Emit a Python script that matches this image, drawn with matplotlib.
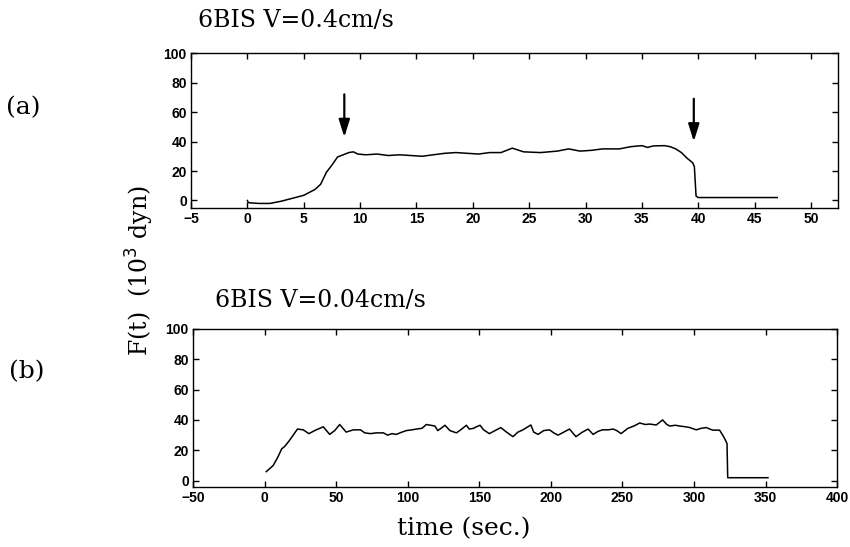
import matplotlib
matplotlib.use("Agg")
import matplotlib.pyplot as plt

# ---- data (a): V = 0.4 cm/s ----
time_a = [0, 0.1, 1, 2, 3, 4, 5, 6, 6.5, 7, 7.5, 8, 8.5, 9, 9.4, 9.8, 10.5, 11.5,
          12.5, 13.5, 14.5, 15.5, 16.5, 17.5, 18.5, 19.5, 20.5, 21.5, 22.5, 23.5,
          24.5, 26, 27.5, 28.5, 29.5, 30.5, 31.5, 33, 34, 35, 35.5, 36, 37, 37.5,
          38, 38.5, 39, 39.5, 39.65, 39.8, 40.0, 47]
force_a = [0, -1.5, -2, -2, -0.5, 1.5, 3.5, 7.5, 11, 19, 24, 29.5, 31, 32.5, 33,
           31.5, 31, 31.5, 30.5, 31, 30.5, 30, 31, 32, 32.5, 32, 31.5, 32.5, 32.5,
           35.5, 33, 32.5, 33.5, 35, 33.5, 34, 35, 35, 36.5, 37.2, 36, 37, 37.2,
           36.5, 35, 32.5, 28.7, 25.6, 23, 3, 2, 2]
arrows_a_x = [8.6, 39.6]
arrows_a_top = [72, 69]
arrows_a_tip = [43, 40]

# ---- data (b): V = 0.04 cm/s ----
time_b = [1.2, 3, 6, 9, 12, 14, 17, 20, 23, 27, 31, 35, 41, 45.5, 49, 52.5, 57, 62,
          67, 70, 74, 78, 83, 86, 89, 92, 96, 99, 103, 106, 110, 113, 116, 119, 121,
          124, 126, 129.5, 134, 137, 141, 143, 146, 148, 150.5, 153, 157, 161, 165,
          169, 173.5, 177, 180.5, 186, 188, 191, 195, 199, 202, 205, 209, 213, 217.5,
          222, 226, 229.5, 233, 236, 240, 243.5, 246, 249, 253.8, 258, 262, 266, 269,
          273.6, 276, 278, 281, 283, 287, 290, 294, 297, 301.5, 305, 308.5, 311, 313,
          317.8, 320, 321.3, 323, 323.5, 351.6]
force_b = [6, 7.5, 10, 15, 21, 22.5, 26, 30, 34, 33.5, 31, 33, 35.5, 30.5, 33, 37,
           32, 33.5, 33.5, 31.5, 31, 31.5, 31.5, 30, 31, 30.5, 32, 33, 33.5, 34, 34.5,
           37, 36.5, 36, 33, 35, 36.5, 33, 31.5, 33.5, 36.5, 34, 34.5, 35.5, 36.5,
           33.5, 31, 33, 35, 32, 29, 32, 33.5, 36.7, 32, 30.5, 33, 33.5, 31.5, 30,
           32, 34, 29, 32, 34, 30.5, 32.5, 33.5, 33.5, 34, 33, 31, 34.5, 36, 38, 37,
           37.3, 36.7, 38.5, 40, 37, 36, 36.5, 36, 35.5, 35, 33.5, 34.5, 35, 34, 33.3,
           33.3, 30, 27.8, 24.5, 2, 2]

title_a = "6BIS V=0.4cm/s"
title_b = "6BIS V=0.04cm/s"
xticks_a = list(range(-5, 55, 5))
xticks_b = list(range(-50, 450, 50))
yticks = [0, 20, 40, 60, 80, 100]

serif = "DejaVu Serif"
tick_font = dict(family="Liberation Sans", weight="bold", size=10)

fig = plt.figure(figsize=(8.5, 5.47), dpi=100)
ax_a = fig.add_axes([0.2247, 0.620, 0.7613, 0.283])
ax_b = fig.add_axes([0.2270, 0.110, 0.7580, 0.289])

def style(ax, xlim, ylim, xticks):
    ax.set_xlim(*xlim)
    ax.set_ylim(*ylim)
    ax.set_xticks(xticks)
    ax.set_yticks(yticks)
    ax.tick_params(direction="in", length=4, width=1, top=True, right=True,
                   pad=3)
    for lab in ax.get_xticklabels() + ax.get_yticklabels():
        lab.set_fontfamily(tick_font["family"])
        lab.set_fontweight(tick_font["weight"])
        lab.set_fontsize(tick_font["size"])
    for s in ax.spines.values():
        s.set_linewidth(1.0)

ax_a.plot(time_a, force_a, color="black", lw=1.1)
style(ax_a, (-5, 52.4), (-5, 100), xticks_a)
for x, y0, y1 in zip(arrows_a_x, arrows_a_top, arrows_a_tip):
    ax_a.annotate("", xy=(x, y1), xytext=(x, y0),
                  arrowprops=dict(arrowstyle="-|>,head_length=0.7,head_width=0.22",
                                  color="black", lw=1.6, mutation_scale=15,
                                  shrinkA=0, shrinkB=0))

ax_b.plot(time_b, force_b, color="black", lw=1.1)
style(ax_b, (-50, 400), (-4, 100), xticks_b)

fig.text(0.348, 0.963, title_a, family=serif, fontsize=17, ha="center", va="center")
fig.text(0.377, 0.450, title_b, family=serif, fontsize=17, ha="center", va="center")
fig.text(0.027, 0.804, "(a)", family=serif, fontsize=18, ha="center", va="center")
fig.text(0.032, 0.320, "(b)", family=serif, fontsize=18, ha="center", va="center")
fig.text(0.165, 0.506, "F(t)  (10$^3$ dyn)", family=serif, fontsize=17,
         rotation=90, ha="center", va="center")
fig.text(0.545, 0.033, "time (sec.)", family=serif, fontsize=18, ha="center",
         va="center")

fig.savefig("out.png", dpi=100)
